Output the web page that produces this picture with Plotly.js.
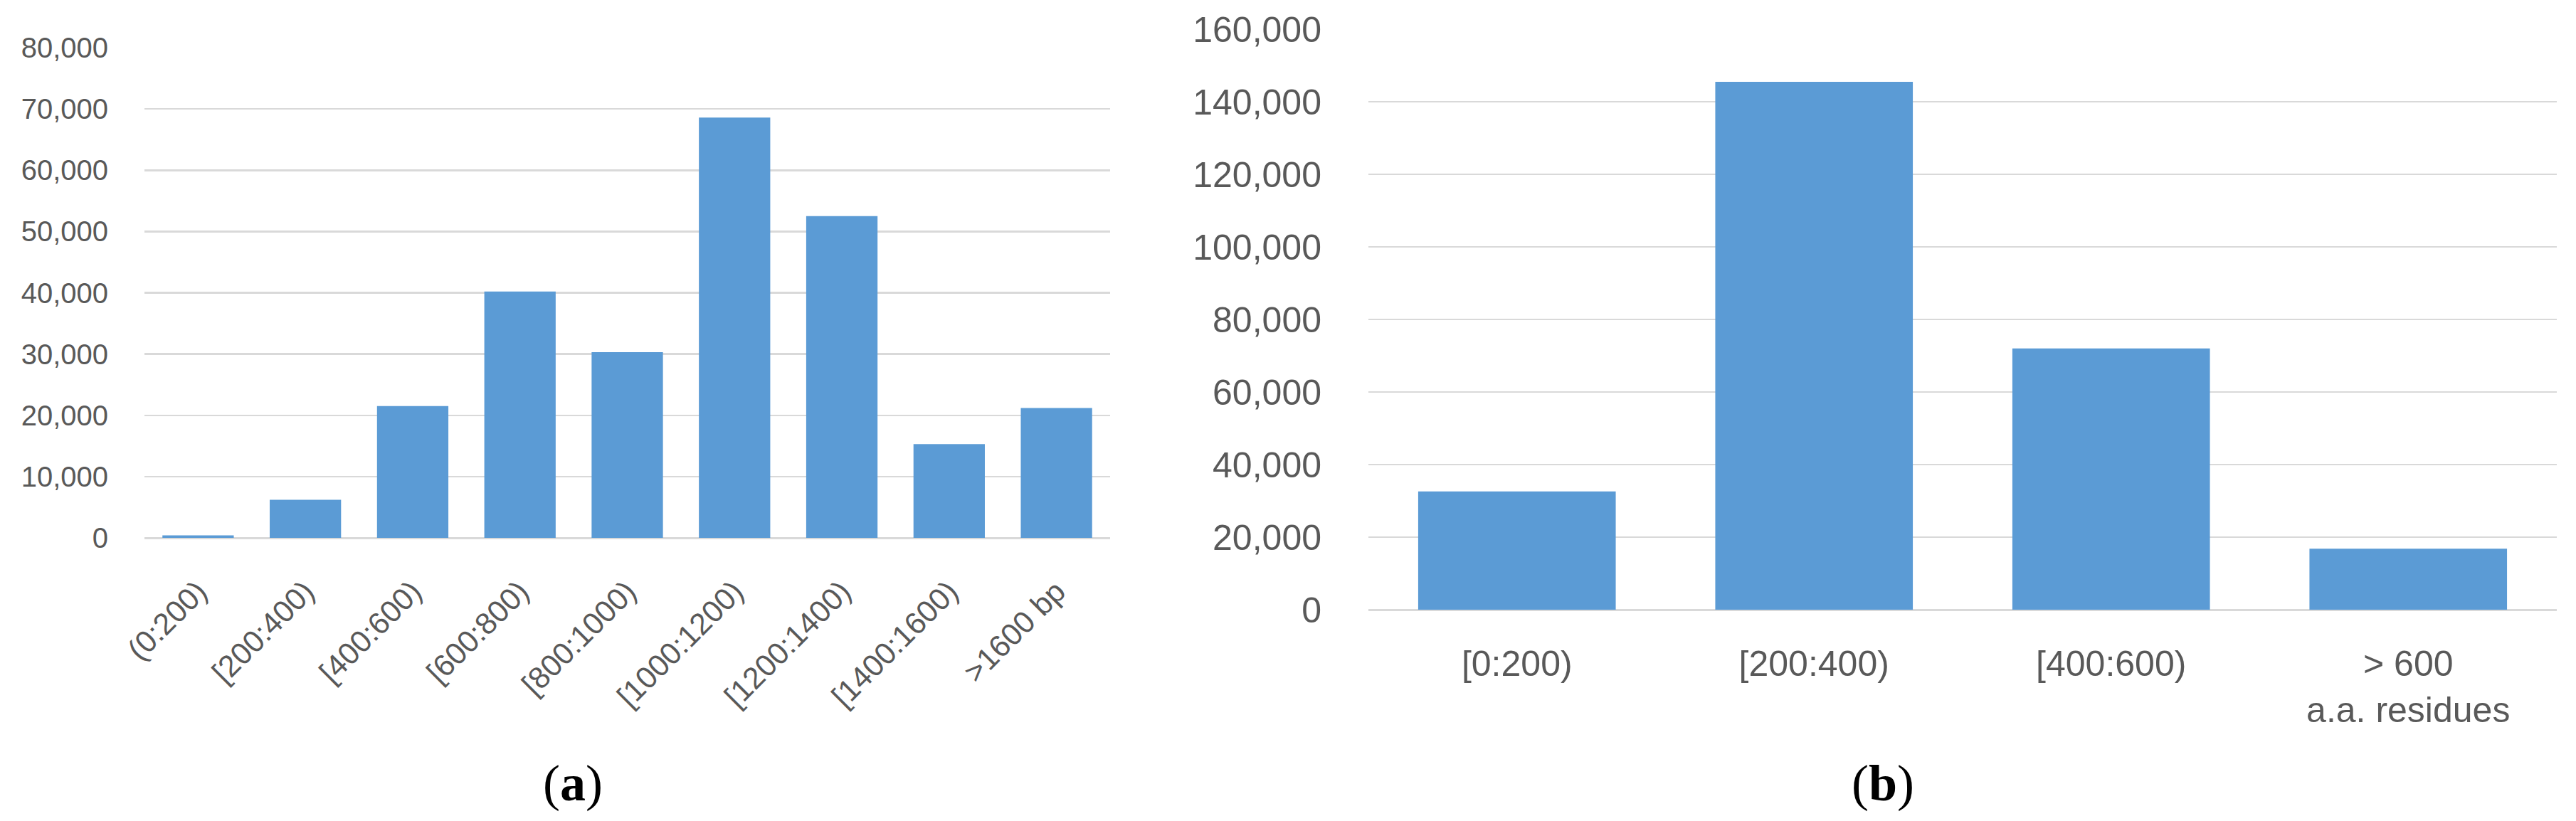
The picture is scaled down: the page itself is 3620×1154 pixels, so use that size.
<!DOCTYPE html>
<html>
<head>
<meta charset="utf-8">
<script src="https://cdn.plot.ly/plotly-3.0.1.min.js"></script>
<style>html,body{margin:0;padding:0;background:#fff;}#chart{width:3620px;height:1154px;}</style>
</head>
<body>
<div id="chart"></div>
<script>
// ---- data ----
const categoriesA = ['(0:200)', '[200:400)', '[400:600)', '[600:800)', '[800:1000)', '[1000:1200)', '[1200:1400)', '[1400:1600)', '>1600 bp'];
const valuesA = [400, 6200, 21500, 40200, 30300, 68600, 52500, 15300, 21200];
const categoriesB = ['[0:200)', '[200:400)', '[400:600)', '> 600<br>a.a. residues'];
const valuesB = [32600, 145500, 72000, 16800];
const captionA = '(<b>a</b>)';
const captionB = '(<b>b</b>)';

const W = 3620, H = 1154;
const barColor = '#5B9BD5';
const gridColor = '#D9D9D9';
const textColor = '#595959';
const sansFont = 'Liberation Sans, Arial, sans-serif';

const traces = [
  {type: 'bar', x: categoriesA, y: valuesA, xaxis: 'x', yaxis: 'y',
   marker: {color: barColor}, hoverinfo: 'skip'},
  {type: 'bar', x: categoriesB, y: valuesB, xaxis: 'x2', yaxis: 'y2',
   marker: {color: barColor}, hoverinfo: 'skip'}
];

const layout = {
  width: W, height: H,
  margin: {l: 0, r: 0, t: 0, b: 0},
  paper_bgcolor: '#ffffff', plot_bgcolor: '#ffffff',
  showlegend: false,
  bargap: 0.335,
  xaxis: {
    domain: [203 / W, 1560 / W], anchor: 'y',
    type: 'category', showgrid: false, showline: false, zeroline: false,
    ticks: 'outside', ticklen: 32, tickcolor: 'rgba(0,0,0,0)',
    tickangle: -45,
    tickfont: {family: sansFont, size: 43, color: textColor}
  },
  yaxis: {
    domain: [(H - 756) / H, (H - 67) / H], anchor: 'x',
    range: [0, 80000], dtick: 10000, tickformat: ',d',
    showgrid: true, gridcolor: gridColor, gridwidth: 2.5,
    zeroline: true, zerolinecolor: gridColor, zerolinewidth: 3,
    showline: false,
    ticks: 'outside', ticklen: 42, tickcolor: 'rgba(0,0,0,0)',
    tickfont: {family: sansFont, size: 40, color: textColor}
  },
  xaxis2: {
    domain: [1923 / W, 3593 / W], anchor: 'y2',
    type: 'category', showgrid: false, showline: false, zeroline: false,
    ticks: 'outside', ticklen: 32, tickcolor: 'rgba(0,0,0,0)',
    tickangle: 0,
    tickfont: {family: sansFont, size: 50, color: textColor}
  },
  yaxis2: {
    domain: [(H - 857) / H, (H - 41) / H], anchor: 'x2',
    range: [0, 160000], dtick: 20000, tickformat: ',d',
    showgrid: true, gridcolor: gridColor, gridwidth: 2.5,
    zeroline: true, zerolinecolor: gridColor, zerolinewidth: 3,
    showline: false,
    ticks: 'outside', ticklen: 55, tickcolor: 'rgba(0,0,0,0)',
    tickfont: {family: sansFont, size: 50, color: textColor}
  },
  annotations: [
    {text: captionA, xref: 'paper', yref: 'paper', x: 805 / W, y: (H - 1101) / H,
     xanchor: 'center', yanchor: 'middle', showarrow: false,
     font: {family: 'Liberation Serif, Times New Roman, serif', size: 72, color: '#000000'}},
    {text: captionB, xref: 'paper', yref: 'paper', x: 2646 / W, y: (H - 1101) / H,
     xanchor: 'center', yanchor: 'middle', showarrow: false,
     font: {family: 'Liberation Serif, Times New Roman, serif', size: 72, color: '#000000'}}
  ]
};

Plotly.newPlot('chart', traces, layout, {staticPlot: true, displayModeBar: false});
</script>
</body>
</html>
